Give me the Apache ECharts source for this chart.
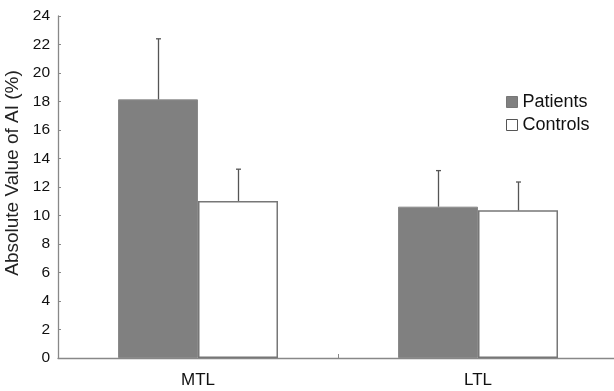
<!DOCTYPE html>
<html><head><meta charset="utf-8">
<script src="https://cdn.jsdelivr.net/npm/echarts@6/dist/echarts.min.js"></script>
<style>html,body{margin:0;padding:0;background:#fff}#c{width:614px;height:391px}</style>
</head><body><div id="c"></div>
<script>
const categories = ['MTL', 'LTL'];
const patients = [18.15, 10.62];
const patientsErr = [22.4, 13.15];
const controls = [11.02, 10.36];
const controlsErr = [13.25, 12.35];
const yTicks = [0, 24, 2];

const FONT = 'Liberation Sans, Arial, sans-serif';
const BW = 80;
function errSeries(name, tops, highs, side) {
  return {
    type: 'custom', name: name + ' err', silent: true, z: 5,
    data: categories.map((c, i) => [i, tops[i], highs[i]]),
    renderItem: function (params, api) {
      const p0 = api.coord([api.value(0), api.value(1)]);
      const p1 = api.coord([api.value(0), api.value(2)]);
      const x = Math.round(p0[0] + side * BW / 2) + 0.5;
      return { type: 'group', children: [
        { type: 'line', shape: { x1: x, y1: p0[1], x2: x, y2: p1[1] }, style: { stroke: '#555', lineWidth: 1.3 } },
        { type: 'line', shape: { x1: x - 2.5, y1: p1[1], x2: x + 2.5, y2: p1[1] }, style: { stroke: '#555', lineWidth: 1.3 } }
      ]};
    }
  };
}
const chart = echarts.init(document.getElementById('c'));
chart.setOption({
  animation: false,
  grid: { left: 58, right: -4, top: 16, bottom: 33, containLabel: false, outerBoundsMode: 'none' },
  legend: {
    orient: 'vertical', left: 506, top: 93, padding: 0, itemWidth: 11, itemHeight: 11, itemGap: 5,
    data: [
      { name: 'Patients', icon: 'rect', itemStyle: { color: '#808080', borderColor: '#777', borderWidth: 1 } },
      { name: 'Controls', icon: 'rect', itemStyle: { color: '#fff', borderColor: '#555', borderWidth: 1 } }
    ],
    textStyle: { fontFamily: FONT, fontSize: 18, color: '#111' }
  },
  xAxis: {
    type: 'category', data: categories,
    axisLine: { lineStyle: { color: '#888', width: 1.3 } },
    axisTick: { show: true, inside: true, length: 4, lineStyle: { color: '#888' } },
    axisLabel: { fontFamily: FONT, fontSize: 17, color: '#111', margin: 14 }
  },
  yAxis: {
    type: 'value', min: yTicks[0], max: yTicks[1], interval: yTicks[2],
    name: 'Absolute Value of AI (%)', nameLocation: 'middle', nameGap: 32,
    nameTextStyle: { fontFamily: FONT, fontSize: 19, color: '#222', padding: [0, 0, 0, 28] },
    axisLine: { show: true, lineStyle: { color: '#888', width: 1.3 } },
    axisTick: { show: true, inside: true, length: 3, lineStyle: { color: '#888' } },
    splitLine: { show: false },
    axisLabel: { fontFamily: FONT, fontSize: 15.5, color: '#111', margin: 8 }
  },
  series: [
    { name: 'Patients', type: 'bar', data: patients, barWidth: BW, barGap: '0%',
      itemStyle: { color: '#808080', borderColor: '#8a8a8a', borderWidth: 1 } },
    { name: 'Controls', type: 'bar', data: controls, barWidth: BW, barGap: '0%',
      itemStyle: { color: '#fff', borderColor: '#777', borderWidth: 1.5 } },
    errSeries('Patients', patients, patientsErr, -1),
    errSeries('Controls', controls, controlsErr, 1)
  ]
});
</script></body></html>
